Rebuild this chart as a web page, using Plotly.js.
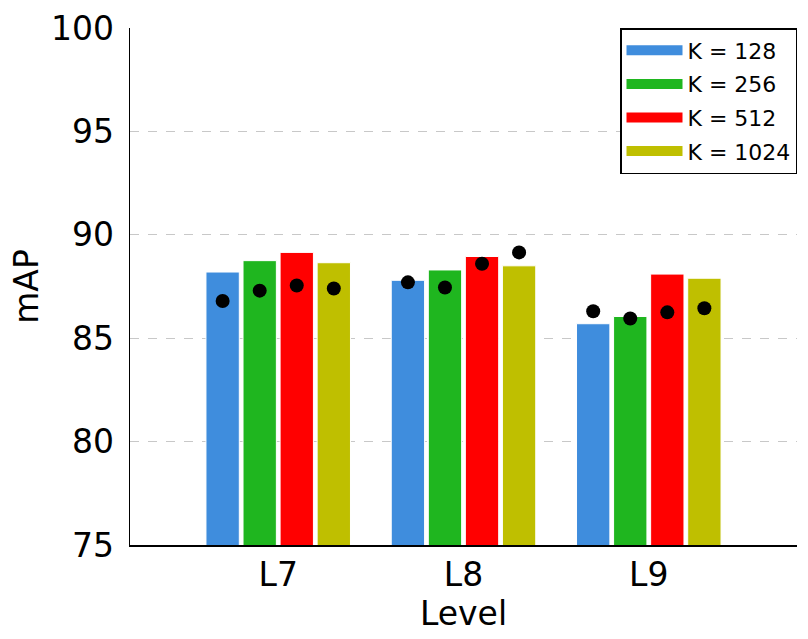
<!DOCTYPE html>
<html>
<head>
    <title>mAP by Level</title>
    <script src="https://cdn.plot.ly/plotly-3.0.1.min.js"></script>
    <style>
        * { margin: 0; padding: 0; }
        body { background: white; }
        #plot { width: 808px; height: 639px; }
    </style>
</head>
<body>
    <div id="plot"></div>
    <script>
        const levels = ['L7', 'L8', 'L9'];
        const seriesNames = ['K = 128', 'K = 256', 'K = 512', 'K = 1024'];
        const colors = ['#3f8ddd', '#1fb61f', '#ff0000', '#bfbf00'];

        // bar heights
        const barK128 = [88.2, 87.8, 85.7];
        const barK256 = [88.75, 88.3, 86.05];
        const barK512 = [89.15, 88.95, 88.1];
        const barK1024 = [88.65, 88.5, 87.9];

        // black dots
        const dotK128 = [86.8, 87.7, 86.3];
        const dotK256 = [87.3, 87.45, 85.95];
        const dotK512 = [87.55, 88.6, 86.25];
        const dotK1024 = [87.4, 89.15, 86.45];

        const bars = [barK128, barK256, barK512, barK1024];
        const dots = [dotK128, dotK256, dotK512, dotK1024];

        const font = 'DejaVu Sans, sans-serif';
        const data = [];

        bars.forEach((vals, i) => {
            data.push({
                x: levels,
                y: vals,
                type: 'bar',
                name: seriesNames[i],
                offsetgroup: 'g' + i,
                marker: { color: colors[i], line: { color: 'white', width: 1 } },
                showlegend: false,
                hoverinfo: 'x+y'
            });
        });

        dots.forEach((vals, i) => {
            data.push({
                x: levels,
                y: vals,
                type: 'scatter',
                mode: 'markers',
                name: seriesNames[i],
                offsetgroup: 'g' + i,
                marker: { color: 'black', size: 14 },
                showlegend: false,
                hoverinfo: 'x+y'
            });
        });

        // legend swatches drawn as thick lines so they look like wide patches
        seriesNames.forEach((name, i) => {
            data.push({
                x: [null],
                y: [null],
                type: 'scatter',
                mode: 'lines',
                name: name,
                legendgroup: 'lg' + i,
                line: { color: colors[i], width: 16 },
                showlegend: true,
                hoverinfo: 'skip'
            });
        });

        const layout = {
            width: 808,
            height: 639,
            margin: { l: 130, r: 11, t: 28, b: 94 },
            paper_bgcolor: 'white',
            plot_bgcolor: 'white',
            font: { family: font, color: 'black' },
            barmode: 'group',
            bargap: 0.2,
            bargroupgap: 0.1,
            scattermode: 'group',
            scattergap: 0.2,
            showlegend: true,
            legend: {
                x: 1, y: 1,
                xanchor: 'right', yanchor: 'top',
                bgcolor: 'white',
                bordercolor: 'black',
                borderwidth: 1.5,
                font: { family: font, size: 22, color: 'black' },
                itemwidth: 56,
                tracegroupgap: 2
            },
            xaxis: {
                type: 'category',
                range: [-0.8, 2.8],
                showline: true,
                linecolor: 'black',
                linewidth: 1.5,
                showgrid: false,
                zeroline: false,
                ticks: '',
                tickfont: { family: font, size: 33 },
                title: { text: 'Level', font: { family: font, size: 33 }, standoff: 4 }
            },
            yaxis: {
                range: [75, 100],
                tickvals: [75, 80, 85, 90, 95, 100],
                showline: true,
                linecolor: 'black',
                linewidth: 1.5,
                showgrid: true,
                gridcolor: '#c8c8c8',
                griddash: 'dash',
                gridwidth: 1,
                zeroline: false,
                ticks: '',
                ticklabelstandoff: 8,
                tickfont: { family: font, size: 33 },
                title: { text: 'mAP', font: { family: font, size: 33 }, standoff: 2 }
            }
        };

        Plotly.newPlot('plot', data, layout, { displayModeBar: false, staticPlot: true });
    </script>
</body>
</html>
